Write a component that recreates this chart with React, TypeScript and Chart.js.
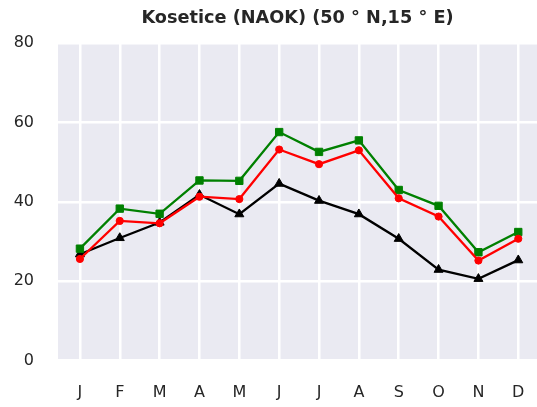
import React, { useEffect, useRef } from "react";
import { Chart, registerables } from "chart.js";

Chart.register(...registerables);

const months = ["J", "F", "M", "A", "M", "J", "J", "A", "S", "O", "N", "D"];
const greenValues = [28.2, 38.3, 37.0, 45.4, 45.3, 57.6, 52.6, 55.5, 43.0, 39.0, 27.3, 32.4];
const redValues = [25.6, 35.2, 34.6, 41.3, 40.7, 53.2, 49.5, 53.0, 40.9, 36.3, 25.2, 30.7];
const blackValues = [26.8, 30.9, 34.8, 41.8, 36.9, 44.6, 40.3, 36.9, 30.7, 22.9, 20.6, 25.3];
const yTicks = [0, 20, 40, 60, 80];
const titleText = "Kosetice (NAOK) (50 \u00B0 N,15 \u00B0 E)";

const FONT = "'DejaVu Sans', sans-serif";
const TEXT = "#262626";

const bgPlugin = {
  id: "plotBg",
  beforeDraw(chart: any) {
    const { ctx, chartArea } = chart;
    ctx.save();
    ctx.fillStyle = "#EAEAF2";
    ctx.fillRect(chartArea.left, chartArea.top, chartArea.right - chartArea.left, chartArea.bottom - chartArea.top);
    ctx.restore();
  },
};

const toXY = (vals: number[]) => vals.map((v, i) => ({ x: i, y: v }));

export default function App() {
  const ref = useRef<HTMLCanvasElement | null>(null);
  useEffect(() => {
    if (!ref.current) return;
    const chart = new Chart(ref.current, {
      type: "line",
      data: {
        datasets: [
          {
            label: "red",
            data: toXY(redValues),
            borderColor: "#ff0000",
            backgroundColor: "#ff0000",
            borderWidth: 2.3,
            pointStyle: "circle",
            pointRadius: 3.6,
            pointBorderWidth: 1,
            order: 0,
          },
          {
            label: "green",
            data: toXY(greenValues),
            borderColor: "#008000",
            backgroundColor: "#008000",
            borderWidth: 2.3,
            pointStyle: "rect",
            pointRadius: 5.2,
            pointBorderWidth: 1,
            order: 1,
          },
          {
            label: "black",
            data: toXY(blackValues),
            borderColor: "#000000",
            backgroundColor: "#000000",
            borderWidth: 2.3,
            pointStyle: "triangle",
            pointRadius: 5.2,
            pointBorderWidth: 1,
            order: 2,
          },
        ],
      },
      options: {
        animation: false,
        responsive: false,
        layout: { autoPadding: false, padding: { left: 0, right: 0, top: 0, bottom: 0 } },
        plugins: {
          legend: { display: false },
          tooltip: { enabled: false },
          title: {
            display: true,
            text: titleText,
            color: TEXT,
            fullSize: false,
            font: { family: FONT, size: 17.7, weight: "bold", lineHeight: 1.2 },
            padding: { top: 8, bottom: 14 },
          },
        },
        scales: {
          x: {
            type: "linear",
            min: -0.55,
            max: 11.47,
            afterBuildTicks: (s: any) => {
              s.ticks = months.map((_, i) => ({ value: i }));
            },
            afterFit: (s: any) => {
              s.height = 46.5;
              s.paddingLeft = 0;
              s.paddingRight = 0;
            },
            ticks: {
              color: TEXT,
              font: { family: FONT, size: 16 },
              padding: 22.6,
              maxRotation: 0,
              autoSkip: false,
              callback: (v: any) => months[Math.round(Number(v))] ?? "",
            },
            grid: { color: "#ffffff", lineWidth: 2.5, drawTicks: false },
            border: { display: false },
          },
          y: {
            min: 0,
            max: 80,
            afterBuildTicks: (s: any) => {
              s.ticks = yTicks.map((v) => ({ value: v }));
            },
            afterFit: (s: any) => {
              s.width = 58;
              s.paddingTop = 0;
              s.paddingBottom = 0;
            },
            ticks: {
              color: TEXT,
              font: { family: FONT, size: 16 },
              padding: 24,
            },
            grid: { color: "#ffffff", lineWidth: 2.5, drawTicks: false },
            border: { display: false },
          },
        },
      },
      plugins: [bgPlugin],
    } as any);
    return () => chart.destroy();
  }, []);

  return (
    <div style={{ position: "fixed", left: 0, top: 0, width: 537, height: 407, background: "#ffffff" }}>
      <canvas ref={ref} width={537} height={407} style={{ display: "block" }} />
    </div>
  );
}
